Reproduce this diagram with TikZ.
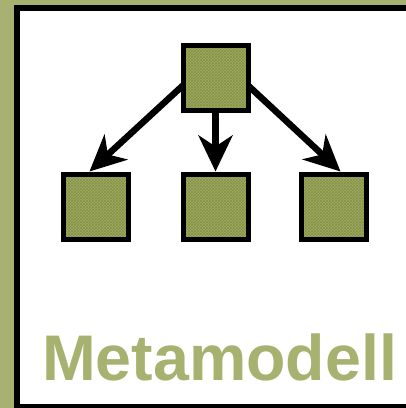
\documentclass[tikz,border=0pt]{standalone}
\usepackage{fontspec}
\setmainfont{Liberation Sans}
\usetikzlibrary{arrows.meta,calc,patterns}
\definecolor{olivebg}{RGB}{168,177,113}
\definecolor{olivebox}{RGB}{160,172,96}
\definecolor{olivehatch}{RGB}{132,145,72}
\definecolor{olivetext}{RGB}{168,178,112}
\tikzset{
  classbox/.style={draw=black, line width=5pt, minimum size=65pt, inner sep=0pt,
    preaction={fill=olivebox}, pattern=crosshatch, pattern color=olivehatch},
  linkarrow/.style={draw=black, line width=6.5pt,
    -{Stealth[length=36pt,width=34pt,inset=11pt]}}
}
\begin{document}
\begin{tikzpicture}[x=1pt,y=-1pt]
  \useasboundingbox (0,0) rectangle (406,408);
  % page background and framed white panel
  \fill[olivebg] (0,0) rectangle (406,408);
  \fill[black] (14,5) rectangle (410,412);
  \fill[white] (20,11) rectangle (410,404);

  % boxes of the hierarchy
  \node[classbox] (top) at (215.5,78) {};
  \node[classbox] (left) at (95.5,206.5) {};
  \node[classbox] (mid) at (215.5,206.5) {};
  \node[classbox] (right) at (333.5,206.5) {};

  % connectors from the upper box down to the three lower ones
  \draw[linkarrow] ($(top.west)+(4,6)$) -- ($(left.north)+(-6,0)$);
  \draw[linkarrow] (top.south) -- (mid.north);
  \draw[linkarrow] ($(top.east)+(-4,6)$) -- ($(right.north)+(7,0)$);

  % redraw the upper box so the arrow tails stay hidden
  \node[classbox] at (top.center) {};

  \node[anchor=base west, inner sep=0pt, text=olivetext, font=\bfseries\fontsize{64.5}{64.5}\selectfont] (title) at (42,380) {Metamodell};
\end{tikzpicture}
\end{document}
